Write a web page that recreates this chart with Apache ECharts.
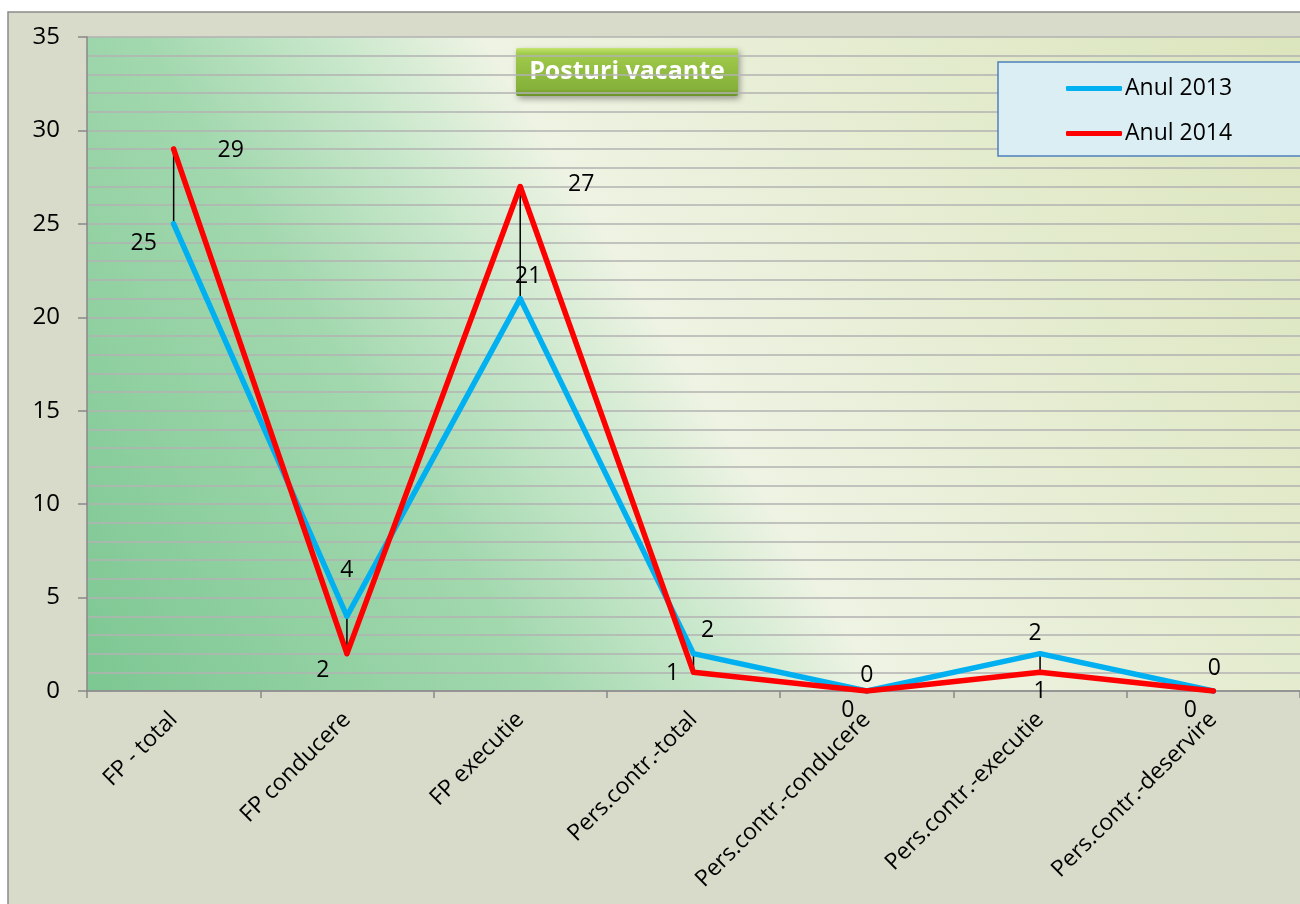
<!DOCTYPE html>
<html>
<head>
<meta charset="utf-8">
<title>Posturi vacante</title>
<script src="https://cdn.jsdelivr.net/npm/echarts@6/dist/echarts.min.js"></script>
<style>
  html, body { margin: 0; padding: 0; background: #fff; }
  #chart { width: 1300px; height: 904px; }
</style>
</head>
<body>
<div id="chart"></div>
<script>
// categorii si valori
var categories = ['FP - total', 'FP conducere', 'FP executie', 'Pers.contr.-total',
  'Pers.contr.-conducere', 'Pers.contr.-executie', 'Pers.contr.-deservire']
var seriesNames = ['Anul 2013', 'Anul 2014']
var data2013 = [25, 4, 21, 2, 0, 2, 0]
var data2014 = [29, 2, 27, 1, 0, 1, 0]
var yTicks = [0, 5, 10, 15, 20, 25, 30, 35]

// deplasarea etichetelor fata de punct (px)
var offsets2013 = [[-30, 20], [0, -46], [8, -22], [14, -23], [0, -16], [-5, -20], [1, -23]]
var offsets2014 = [[57, 1], [-24, 17], [61, -2], [-21, 1], [-19, 19], [0, 19], [-23, 19]]

var FONT = '"Open Sans", "Noto Sans", sans-serif'

function labelled(values, offsets) {
  return values.map(function (v, i) {
    return { value: v, label: { offset: offsets[i] } }
  })
}

var chart = echarts.init(document.getElementById('chart'))
chart.setOption({
  backgroundColor: '#ffffff',
  animation: false,
  textStyle: { fontFamily: FONT },
  graphic: [{
    type: 'rect',
    z: -10,
    shape: { x: 8, y: 12, width: 1400, height: 1000 },
    style: { fill: '#d8dbc9', stroke: '#8a8a8a', lineWidth: 1.5 }
  }, {
    type: 'group',
    z: 100,
    children: [{
      type: 'rect',
      shape: { x: 516, y: 48, width: 222, height: 48, r: 2 },
      style: {
        fill: {
          type: 'linear', x: 0, y: 0, x2: 0, y2: 1,
          colorStops: [
            { offset: 0, color: '#c4e46e' },
            { offset: 0.12, color: '#9fca4b' },
            { offset: 0.85, color: '#86b13a' },
            { offset: 1, color: '#6a9228' }
          ]
        },
        shadowBlur: 6,
        shadowOffsetX: 2,
        shadowOffsetY: 3,
        shadowColor: 'rgba(0,0,0,0.35)'
      }
    }, {
      type: 'text',
      x: 627,
      y: 72,
      style: {
        text: 'Posturi vacante',
        fill: '#ffffff',
        font: 'bold 25px ' + FONT,
        align: 'center',
        verticalAlign: 'middle'
      }
    }]
  }],
  legend: {
    orient: 'vertical',
    left: 998,
    top: 62,
    padding: [15, 80, 11, 68],
    itemGap: 22,
    itemWidth: 56,
    itemHeight: 5,
    icon: 'roundRect',
    backgroundColor: '#dbeef3',
    borderColor: '#4f81bd',
    borderWidth: 1.5,
    textStyle: { color: '#000', fontSize: 23, fontFamily: FONT, padding: [0, 0, 0, -2] },
    data: seriesNames
  },
  grid: {
    left: 87,
    top: 37,
    width: 1221,
    height: 654,
    show: true,
    borderWidth: 0,
    backgroundColor: {
      type: 'linear', x: 87, y: 691, x2: 1267, y2: -31, global: true,
      colorStops: [
        { offset: 0, color: '#7cc792' },
        { offset: 0.28, color: '#a2d8ae' },
        { offset: 0.4, color: '#cae8cc' },
        { offset: 0.49, color: '#eef3e3' },
        { offset: 0.66, color: '#e7eed5' },
        { offset: 1, color: '#dbe5bc' }
      ]
    }
  },
  xAxis: {
    type: 'category',
    data: categories,
    boundaryGap: true,
    axisLine: { lineStyle: { color: '#888888', width: 1.5 } },
    axisTick: { show: true, length: 7, lineStyle: { color: '#888888', width: 1.5 } },
    axisLabel: { rotate: 45, color: '#000', fontSize: 23, fontFamily: FONT, margin: 25, interval: 0 },
    splitLine: { show: false }
  },
  yAxis: {
    type: 'value',
    min: yTicks[0],
    max: yTicks[yTicks.length - 1],
    interval: yTicks[1] - yTicks[0],
    axisLine: { show: true, lineStyle: { color: '#888888', width: 1.5 } },
    axisTick: { show: true, length: 9, lineStyle: { color: '#888888', width: 1.5 } },
    axisLabel: { color: '#000', fontSize: 24, fontFamily: FONT, margin: 27 },
    splitLine: { show: true, lineStyle: { color: '#b2b2b2', width: 1.5 } },
    minorTick: { show: false, splitNumber: 5 },
    minorSplitLine: { show: true, lineStyle: { color: '#b2b2b2', width: 1.5 } }
  },
  series: [{
    // linii verticale intre cele doua valori
    type: 'custom',
    silent: true,
    z: 1,
    data: data2013.map(function (v, i) { return [i, v, data2014[i]] }),
    renderItem: function (params, api) {
      var a = api.coord([api.value(0), api.value(1)])
      var b = api.coord([api.value(0), api.value(2)])
      return {
        type: 'line',
        shape: { x1: a[0], y1: a[1], x2: b[0], y2: b[1] },
        style: { stroke: '#000', lineWidth: 1.5 }
      }
    }
  }, {
    name: seriesNames[0],
    type: 'line',
    z: 2,
    symbol: 'circle',
    symbolSize: 5,
    color: '#00b0f0',
    lineStyle: { width: 5.5, color: '#00b0f0', cap: 'round', join: 'round' },
    label: { show: true, position: 'inside', color: '#000', fontSize: 23, fontFamily: FONT },
    data: labelled(data2013, offsets2013)
  }, {
    name: seriesNames[1],
    type: 'line',
    z: 3,
    symbol: 'circle',
    symbolSize: 5,
    color: '#ff0000',
    lineStyle: { width: 5.5, color: '#ff0000', cap: 'round', join: 'round' },
    label: { show: true, position: 'inside', color: '#000', fontSize: 23, fontFamily: FONT },
    data: labelled(data2014, offsets2014)
  }]
})
</script>
</body>
</html>
